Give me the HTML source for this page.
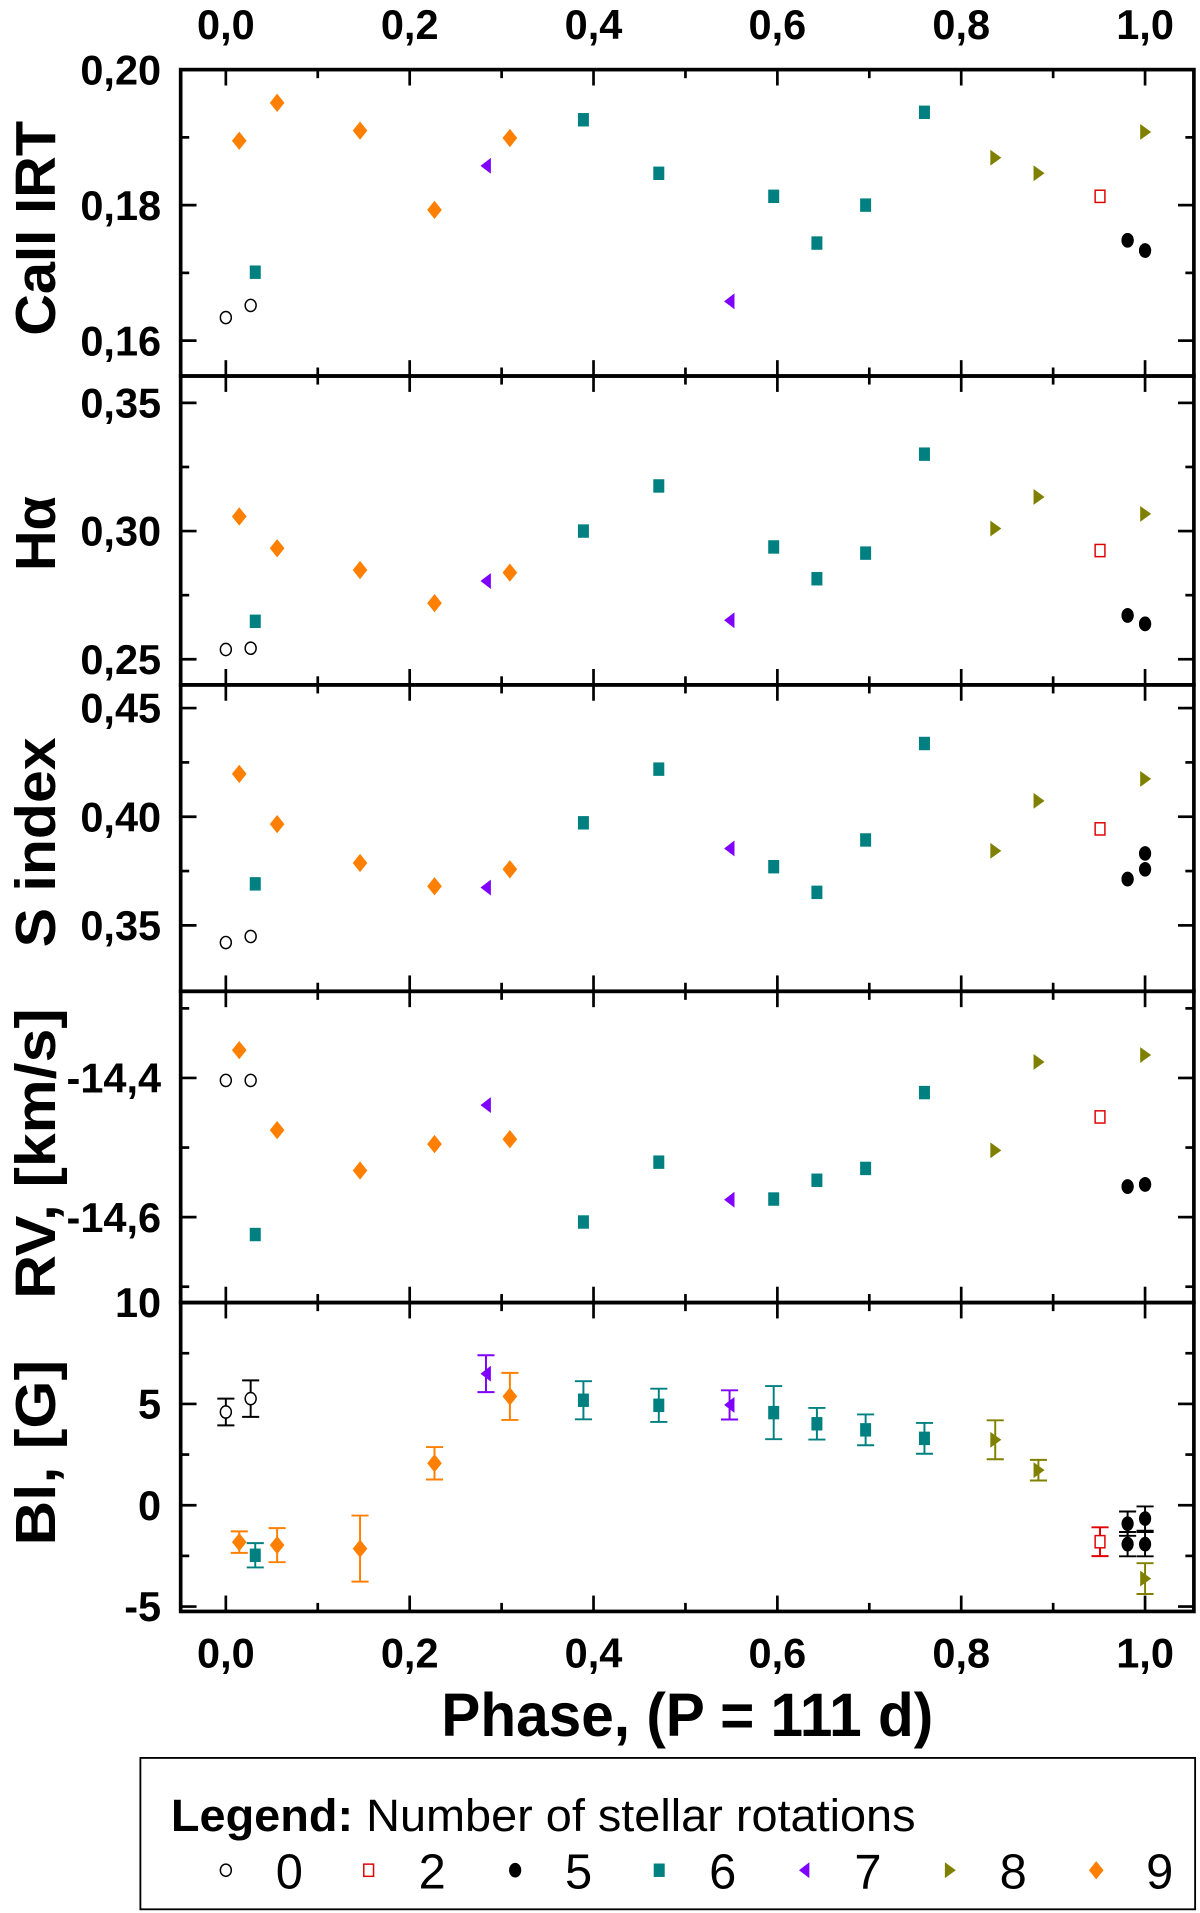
<!DOCTYPE html>
<html><head><meta charset="utf-8"><style>
html,body{margin:0;padding:0;background:#fff;}
svg{display:block;font-family:"Liberation Sans",sans-serif;}
</style></head><body>
<svg id="chart" width="1200" height="1913" viewBox="0 0 983 1567" xmlns="http://www.w3.org/2000/svg"></svg>
<script>
// Phases per group (number of stellar rotations)
const phase0 = [0.0, 0.027];
const phase2 = [0.951];
const phase5 = [0.981, 0.981, 1.0, 1.0];
const phase6 = [0.032, 0.389, 0.471, 0.596, 0.643, 0.696, 0.760];
const phase7 = [0.283, 0.548];
const phase8 = [0.837, 0.884, 1.0];
const phase9 = [0.0146, 0.0558, 0.146, 0.227, 0.309];

// CaII IRT
const ca0 = [0.1634, 0.1652];
const ca2 = [0.1813];
const ca5 = [0.1748, 0.1748, 0.1733, 0.1733];
const ca6 = [0.1701, 0.1926, 0.1847, 0.1813, 0.1744, 0.1800, 0.1937];
const ca7 = [0.1858, 0.1658];
const ca8 = [0.1870, 0.1847, 0.1908];
const ca9 = [0.1895, 0.1951, 0.1910, 0.1793, 0.1899];
// H alpha
const ha0 = [0.2538, 0.2543];
const ha2 = [0.2924];
const ha5 = [0.2671, 0.2671, 0.2638, 0.2638];
const ha6 = [0.2648, 0.3000, 0.3176, 0.2938, 0.2814, 0.2914, 0.3300];
const ha7 = [0.2805, 0.2652];
const ha8 = [0.3010, 0.3133, 0.3067];
const ha9 = [0.3057, 0.2933, 0.2848, 0.2719, 0.2838];
// S index
const s0 = [0.3421, 0.3449];
const s2 = [0.3944];
const s5 = [0.3713, 0.3713, 0.3831, 0.3758];
const s6 = [0.3691, 0.3972, 0.4219, 0.3770, 0.3652, 0.3893, 0.4337];
const s7 = [0.3674, 0.3854];
const s8 = [0.3843, 0.4073, 0.4174];
const s9 = [0.4197, 0.3966, 0.3787, 0.3680, 0.3758];
// RV
const rv0 = [-14.4035, -14.4035];
const rv2 = [-14.456];
const rv5 = [-14.556, -14.556, -14.553, -14.553];
const rv6 = [-14.625, -14.607, -14.521, -14.574, -14.547, -14.530, -14.421];
const rv7 = [-14.439, -14.575];
const rv8 = [-14.504, -14.377, -14.367];
const rv9 = [-14.360, -14.475, -14.533, -14.495, -14.488];
// Bl
const bl0 = [4.6, 5.26];
const bl2 = [-1.8];
const bl5 = [-0.91, -1.92, -0.66, -1.92];
const bl6 = [-2.47, 5.18, 4.93, 4.57, 4.02, 3.72, 3.30];
const bl7 = [6.49, 4.95];
const bl8 = [3.23, 1.73, -3.62];
const bl9 = [-1.82, -1.97, -2.14, 2.07, 5.37];
// Bl errors
const blErr0 = [0.66, 0.9];
const blErr2 = [0.71];
const blErr5 = [0.6, 0.6, 0.6, 0.6];
const blErr6 = [0.6, 0.94, 0.82, 1.31, 0.78, 0.76, 0.76];
const blErr7 = [0.91, 0.72];
const blErr8 = [0.96, 0.51, 0.76];
const blErr9 = [0.53, 0.84, 1.63, 0.8, 1.16];

const xTicks = [0.0, 0.2, 0.4, 0.6, 0.8, 1.0];
const xTickLabels = ["0,0", "0,2", "0,4", "0,6", "0,8", "1,0"];
const legendLabels = ["0", "2", "5", "6", "7", "8", "9"];

const NS = "http://www.w3.org/2000/svg";
const svg = document.getElementById("chart");
const L = 148, R = 978;
function xs(p){ return 185 + p * 753; }
function mk(tag, attrs, parent){
  const e = document.createElementNS(NS, tag);
  for (const k in attrs) e.setAttribute(k, attrs[k]);
  (parent || svg).appendChild(e);
  return e;
}
function txt(str, attrs, parent){ const e = mk("text", attrs, parent); e.textContent = str; return e; }

const colors = {g0:"#000", g2:"#e00000", g5:"#000", g6:"#008080", g7:"#7f00ff", g8:"#808000", g9:"#ff7f00"};

function marker(type, x, y, g){
  let e;
  if (type === "g0") e = mk("ellipse", {cx:x, cy:y, rx:4.5, ry:5, fill:"#fff", stroke:"#000", "stroke-width":1.2}, g);
  else if (type === "g2") e = mk("rect", {x:x-4, y:y-5, width:8, height:10, fill:"#fff", stroke:"#e00000", "stroke-width":1.2}, g);
  else if (type === "g5") e = mk("ellipse", {cx:x, cy:y, rx:5, ry:6, fill:"#000"}, g);
  else if (type === "g6") e = mk("rect", {x:x-4.5, y:y-5.5, width:9, height:11, fill:"#008080"}, g);
  else if (type === "g7") e = mk("polygon", {points:`${x-4.5},${y} ${x+4},${y-6.5} ${x+4},${y+6.5}`, fill:"#7f00ff"}, g);
  else if (type === "g8") e = mk("polygon", {points:`${x+5},${y} ${x-4},${y-6.5} ${x-4},${y+6.5}`, fill:"#808000"}, g);
  else e = mk("polygon", {points:`${x},${y-7.5} ${x+6},${y} ${x},${y+7.5} ${x-6},${y}`, fill:"#ff7f00"}, g);
  return e;
}

const panels = [
  {name:"caii-irt", top:57, bottom:308, vTop:0.20, pxPer:111/0.02, major:[0.16,0.18,0.20], labels:["0,16","0,18","0,20"], minor:[0.17,0.19], title:"CaII IRT", tc:187, tl:176,
   data:{g0:ca0,g2:ca2,g5:ca5,g6:ca6,g7:ca7,g8:ca8,g9:ca9}},
  {name:"h-alpha", top:308, bottom:561, vTop:0.35, yTopPx:330, pxPer:105/0.05, major:[0.25,0.30,0.35], labels:["0,25","0,30","0,35"], minor:[0.275,0.325], title:"Hα", tc:437, tl:0,
   data:{g0:ha0,g2:ha2,g5:ha5,g6:ha6,g7:ha7,g8:ha8,g9:ha9}},
  {name:"s-index", top:561, bottom:812, vTop:0.45, yTopPx:580, pxPer:89/0.05, major:[0.35,0.40,0.45], labels:["0,35","0,40","0,45"], minor:[0.375,0.425], title:"S index", tc:690, tl:172,
   data:{g0:s0,g2:s2,g5:s5,g6:s6,g7:s7,g8:s8,g9:s9}},
  {name:"radial-velocity", top:812, bottom:1067, vTop:-14.4, yTopPx:883, pxPer:114/0.2, major:[-14.4,-14.6], labels:["-14,4","-14,6"], minor:[-14.3,-14.5,-14.7], title:"RV, [km/s]", tc:945, tl:238,
   data:{g0:rv0,g2:rv2,g5:rv5,g6:rv6,g7:rv7,g8:rv8,g9:rv9}},
  {name:"longitudinal-field", top:1067, bottom:1320, vTop:10, yTopPx:1067, pxPer:83/5, major:[-5,0,5,10], labels:["-5","0","5","10"], minor:[-2.5,2.5,7.5], title:"Bl, [G]", tc:1190, tl:152,
   data:{g0:bl0,g2:bl2,g5:bl5,g6:bl6,g7:bl7,g8:bl8,g9:bl9},
   err:{g0:blErr0,g2:blErr2,g5:blErr5,g6:blErr6,g7:blErr7,g8:blErr8,g9:blErr9}}
];
const phases = {g0:phase0,g2:phase2,g5:phase5,g6:phase6,g7:phase7,g8:phase8,g9:phase9};

panels.forEach((p, i) => {
  const yTopPx = p.yTopPx !== undefined ? p.yTopPx : p.top;
  const ys = v => yTopPx + (p.vTop - v) * p.pxPer;
  const g = mk("g", {});
  
  
  mk("rect", {x:L, y:p.top, width:R-L, height:p.bottom-p.top, fill:"none", stroke:"#000", "stroke-width":3}, g);
  for (let k = 0; k <= 10; k++) {
    const x = xs(k/10), len = k % 2 === 0 ? 13 : 7;
    mk("line", {x1:x, y1:p.bottom, x2:x, y2:p.bottom-len, stroke:"#000", "stroke-width":2.2}, g);
    mk("line", {x1:x, y1:p.top, x2:x, y2:p.top+len, stroke:"#000", "stroke-width":2.2}, g);
  }
  p.major.forEach((v, j) => {
    const y = ys(v);
    mk("line", {x1:L, y1:y, x2:L+13, y2:y, stroke:"#000", "stroke-width":2.2}, g);
    mk("line", {x1:R, y1:y, x2:R-13, y2:y, stroke:"#000", "stroke-width":2.2}, g);
    const t = txt(p.labels[j], {x:132, y:y+12, "text-anchor":"end", "font-size":34, "font-weight":"bold"}, g);
    
    
  });
  p.minor.forEach(v => {
    const y = ys(v);
    mk("line", {x1:L, y1:y, x2:L+7, y2:y, stroke:"#000", "stroke-width":2.2}, g);
    mk("line", {x1:R, y1:y, x2:R-7, y2:y, stroke:"#000", "stroke-width":2.2}, g);
  });
  const ta = {x:0, y:0, transform:`translate(45,${p.tc}) rotate(-90)`, "text-anchor":"middle", "font-size":46, "font-weight":"bold"};
  if (p.tl) { ta.textLength = p.tl; ta.lengthAdjust = "spacingAndGlyphs"; }
  const tt = txt(p.title, ta, g);
  
  
  Object.keys(p.data).forEach(key => {
    const vals = p.data[key], ph = phases[key];
    vals.forEach((v, j) => {
      const x = xs(ph[j]), y = ys(v);
      if (p.err) {
        const e = p.err[key][j], y1 = ys(v + e), y2 = ys(v - e);
        const c = colors[key];
        const eb = mk("path", {d:`M${x},${y1}V${y2}M${x-7},${y1}H${x+7}M${x-7},${y2}H${x+7}`, stroke:c, "stroke-width":1.6, fill:"none"}, g);
        
        
      }
      const m = marker(key, x, y, g);
      
      
    });
  });
});

xTicks.forEach((v, j) => {
  const t1 = txt(xTickLabels[j], {x:xs(v), y:32, "text-anchor":"middle", "font-size":34, "font-weight":"bold"});
  
  
  const t2 = txt(xTickLabels[j], {x:xs(v), y:1366, "text-anchor":"middle", "font-size":34, "font-weight":"bold"});
  
  
});
const xt = txt("Phase, (P = 111 d)", {x:563, y:1422, "text-anchor":"middle", "font-size":50, "font-weight":"bold", textLength:403, lengthAdjust:"spacingAndGlyphs"});



const lg = mk("g", {});


mk("rect", {x:115, y:1440, width:864, height:124, fill:"#fff", stroke:"#000", "stroke-width":1.5}, lg);
const lt = mk("text", {x:140, y:1500, "font-size":37, textLength:610, lengthAdjust:"spacingAndGlyphs"}, lg);
lt.innerHTML = '<tspan font-weight="bold">Legend:</tspan> Number of stellar rotations';


const legKeys = ["g0","g2","g5","g6","g7","g8","g9"];
const legMx = [185, 302, 422, 540, 659, 778, 898];
legKeys.forEach((k, j) => {
  const m = marker(k, legMx[j], 1532, lg);
  
  
  const t = txt(legendLabels[j], {x:legMx[j]+52, y:1547, "text-anchor":"middle", "font-size":40}, lg);
  
  
});
</script>
</body></html>
